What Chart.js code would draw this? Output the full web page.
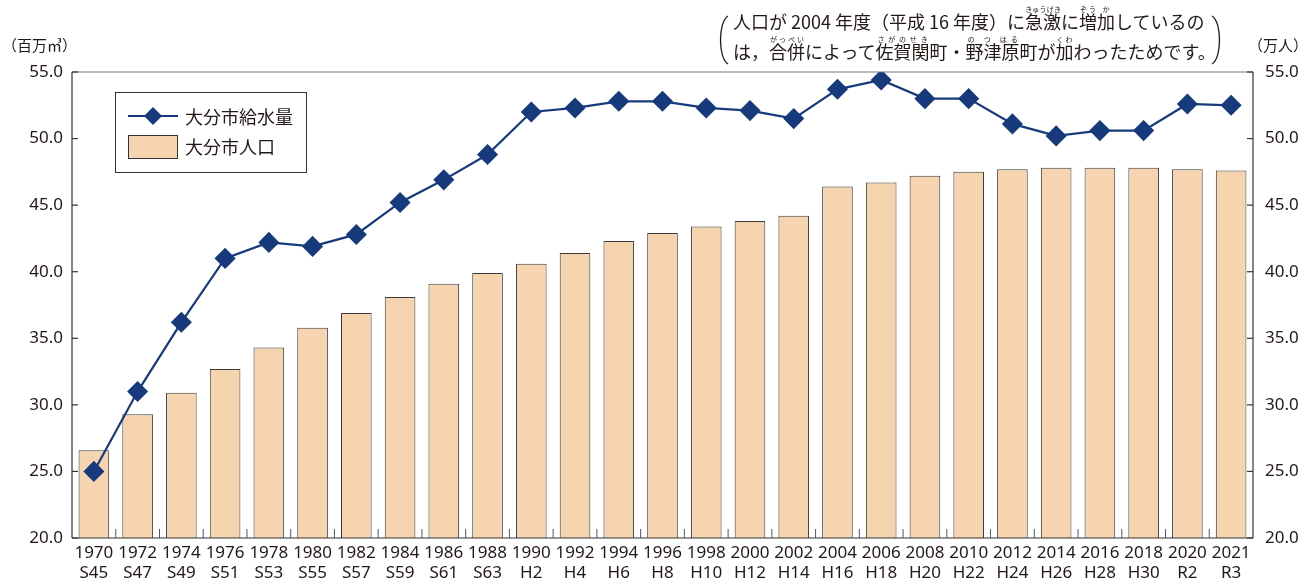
<!DOCTYPE html>
<html>
<head>
<meta charset="utf-8">
<script src="https://cdn.jsdelivr.net/npm/chart.js@4/dist/chart.umd.min.js"></script>
<style>
  html, body { margin: 0; padding: 0; background: #fff; }
  #wrap { position: relative; width: 1303px; height: 587px; }
  canvas { position: absolute; left: 0; top: 0; }
  .note {
    position: absolute; left: 733px; top: 5px; width: 480px;
    font-family: "Noto Sans CJK JP", sans-serif; font-size: 18px; line-height: 28px;
    color: #231815; white-space: nowrap;
  }
  .note rt { font-size: 7px; color: #231815; }
</style>
</head>
<body>
<div id="wrap">
  <canvas id="waterChart" width="1303" height="587"></canvas>
  <div class="note">
    <div>人口が 2004 年度（平成 16 年度）に<ruby>急激<rt>きゅうげき</rt></ruby>に<ruby>増<rt>ぞう</rt></ruby><ruby>加<rt>か</rt></ruby>しているの</div>
    <div>は，<ruby>合併<rt>がっぺい</rt></ruby>によって<ruby>佐賀関<rt>さがのせき</rt></ruby>町・<ruby>野津原<rt>の つ はる</rt></ruby>町が<ruby>加<rt>くわ</rt></ruby>わったためです。</div>
  </div>
</div>
<script>
    // データ
    const years = ['1970','1972','1974','1976','1978','1980','1982','1984','1986','1988','1990','1992','1994','1996','1998','2000','2002','2004','2006','2008','2010','2012','2014','2016','2018','2020','2021'];
    const eras = ['S45','S47','S49','S51','S53','S55','S57','S59','S61','S63','H2','H4','H6','H8','H10','H12','H14','H16','H18','H20','H22','H24','H26','H28','H30','R2','R3'];
    const waterSupply = [25.0, 31.0, 36.2, 41.0, 42.2, 41.9, 42.8, 45.2, 46.9, 48.8, 52.0, 52.3, 52.8, 52.8, 52.3, 52.1, 51.5, 53.7, 54.4, 53.0, 53.0, 51.1, 50.2, 50.6, 50.6, 52.6, 52.5];
    const population = [26.6, 29.3, 30.9, 32.7, 34.3, 35.8, 36.9, 38.1, 39.1, 39.9, 40.6, 41.4, 42.3, 42.9, 43.4, 43.8, 44.2, 46.4, 46.7, 47.2, 47.5, 47.7, 47.8, 47.8, 47.8, 47.7, 47.6];
    const yTicks = [20, 25, 30, 35, 40, 45, 50, 55];

    const lineColor = '#173a7c';
    const barFill = '#f7d4b0';
    const textColor = '#231815';
    const font = "'Liberation Sans Narrow', 'Noto Sans', sans-serif";

    // 枠線・目盛り・凡例・単位
    const framePlugin = {
        id: 'frame',
        afterDraw(chart) {
            const { ctx, chartArea: a, scales } = chart;
            ctx.save();
            // top line
            ctx.strokeStyle = '#777';
            ctx.lineWidth = 1.2;
            ctx.beginPath(); ctx.moveTo(a.left, a.top); ctx.lineTo(a.right, a.top); ctx.stroke();
            // left / right / bottom
            ctx.strokeStyle = '#333';
            ctx.beginPath(); ctx.moveTo(a.left, a.top); ctx.lineTo(a.left, a.bottom); ctx.stroke();
            ctx.beginPath(); ctx.moveTo(a.right, a.top); ctx.lineTo(a.right, a.bottom); ctx.stroke();
            ctx.beginPath(); ctx.moveTo(a.left, a.bottom); ctx.lineTo(a.right, a.bottom); ctx.stroke();
            // inward ticks
            yTicks.forEach(v => {
                const y = scales.y.getPixelForValue(v);
                ctx.beginPath(); ctx.moveTo(a.left, y); ctx.lineTo(a.left + 6, y); ctx.stroke();
                ctx.beginPath(); ctx.moveTo(a.right, y); ctx.lineTo(a.right - 6, y); ctx.stroke();
            });
            // category ticks at bottom
            ctx.strokeStyle = '#555';
            ctx.lineWidth = 1;
            for (let i = 1; i < years.length; i++) {
                const x = a.left + (a.right - a.left) * i / years.length;
                ctx.beginPath(); ctx.moveTo(x, a.bottom); ctx.lineTo(x, a.bottom - 9); ctx.stroke();
            }
            // units
            ctx.fillStyle = textColor;
            ctx.font = "15px 'Noto Sans CJK JP'";
            ctx.textBaseline = 'middle';
            ctx.textAlign = 'left';
            ctx.fillText('（百万㎥）', 2, 45);
            ctx.fillText('（万人）', 1248, 45);
            // note parentheses
            ctx.strokeStyle = textColor;
            ctx.lineWidth = 1.3;
            ctx.beginPath(); ctx.moveTo(728, 16); ctx.bezierCurveTo(718, 22, 718, 58, 728, 64); ctx.stroke();
            ctx.beginPath(); ctx.moveTo(1212, 16); ctx.bezierCurveTo(1222, 22, 1222, 58, 1212, 64); ctx.stroke();
            // legend
            ctx.strokeStyle = '#333';
            ctx.lineWidth = 1;
            ctx.strokeRect(115.5, 92.5, 191, 80);
            ctx.strokeStyle = lineColor;
            ctx.lineWidth = 2;
            ctx.beginPath(); ctx.moveTo(128, 116); ctx.lineTo(178, 116); ctx.stroke();
            ctx.fillStyle = lineColor;
            ctx.beginPath();
            ctx.moveTo(153, 107); ctx.lineTo(162, 116); ctx.lineTo(153, 125); ctx.lineTo(144, 116);
            ctx.closePath(); ctx.fill();
            ctx.fillStyle = barFill;
            ctx.fillRect(128.5, 135.5, 49, 23);
            ctx.strokeStyle = '#333';
            ctx.lineWidth = 1;
            ctx.strokeRect(128.5, 135.5, 49, 23);
            ctx.fillStyle = textColor;
            ctx.font = "18px 'Noto Sans CJK JP'";
            ctx.fillText('大分市給水量', 185, 117);
            ctx.fillText('大分市人口', 185, 147);
            ctx.restore();
        }
    };

    const ctx1 = document.getElementById('waterChart').getContext('2d');

    new Chart(ctx1, {
        type: 'bar',
        data: {
            labels: years.map((y, i) => [y, eras[i]]),
            datasets: [
                {
                    type: 'line',
                    label: '大分市給水量',
                    data: waterSupply,
                    borderColor: lineColor,
                    backgroundColor: lineColor,
                    borderWidth: 2.2,
                    pointStyle: 'rectRot',
                    pointRadius: 9,
                    pointHoverRadius: 9,
                    tension: 0,
                    yAxisID: 'y',
                    order: 0
                },
                {
                    label: '大分市人口',
                    data: population,
                    backgroundColor: barFill,
                    borderColor: '#3a3a3a',
                    borderWidth: 1,
                    categoryPercentage: 1,
                    barPercentage: 0.7,
                    yAxisID: 'y2',
                    order: 1
                }
            ]
        },
        options: {
            responsive: false,
            animation: false,
            layout: { padding: { top: 72, left: 0, right: 0, bottom: 0 } },
            plugins: {
                legend: { display: false },
                tooltip: { enabled: false }
            },
            scales: {
                x: {
                    grid: { display: false, drawTicks: false },
                    border: { display: false },
                    ticks: {
                        color: textColor,
                        font: { family: font, size: 17 },
                        maxRotation: 0,
                        autoSkip: false,
                        padding: 5
                    },
                    afterFit(s) { s.height = 49; }
                },
                y: {
                    position: 'left',
                    min: 20,
                    max: 55,
                    grid: { display: false, drawTicks: false },
                    border: { display: false },
                    ticks: {
                        stepSize: 5,
                        color: textColor,
                        font: { family: font, size: 17 },
                        padding: 9,
                        callback: v => v.toFixed(1)
                    },
                    afterFit(s) { s.width = 72; }
                },
                y2: {
                    position: 'right',
                    min: 20,
                    max: 55,
                    grid: { display: false, drawTicks: false },
                    border: { display: false },
                    ticks: {
                        stepSize: 5,
                        color: textColor,
                        font: { family: font, size: 17 },
                        padding: 12,
                        callback: v => v.toFixed(1)
                    },
                    afterFit(s) { s.width = 50; }
                }
            }
        },
        plugins: [framePlugin]
    });
</script>
</body>
</html>
